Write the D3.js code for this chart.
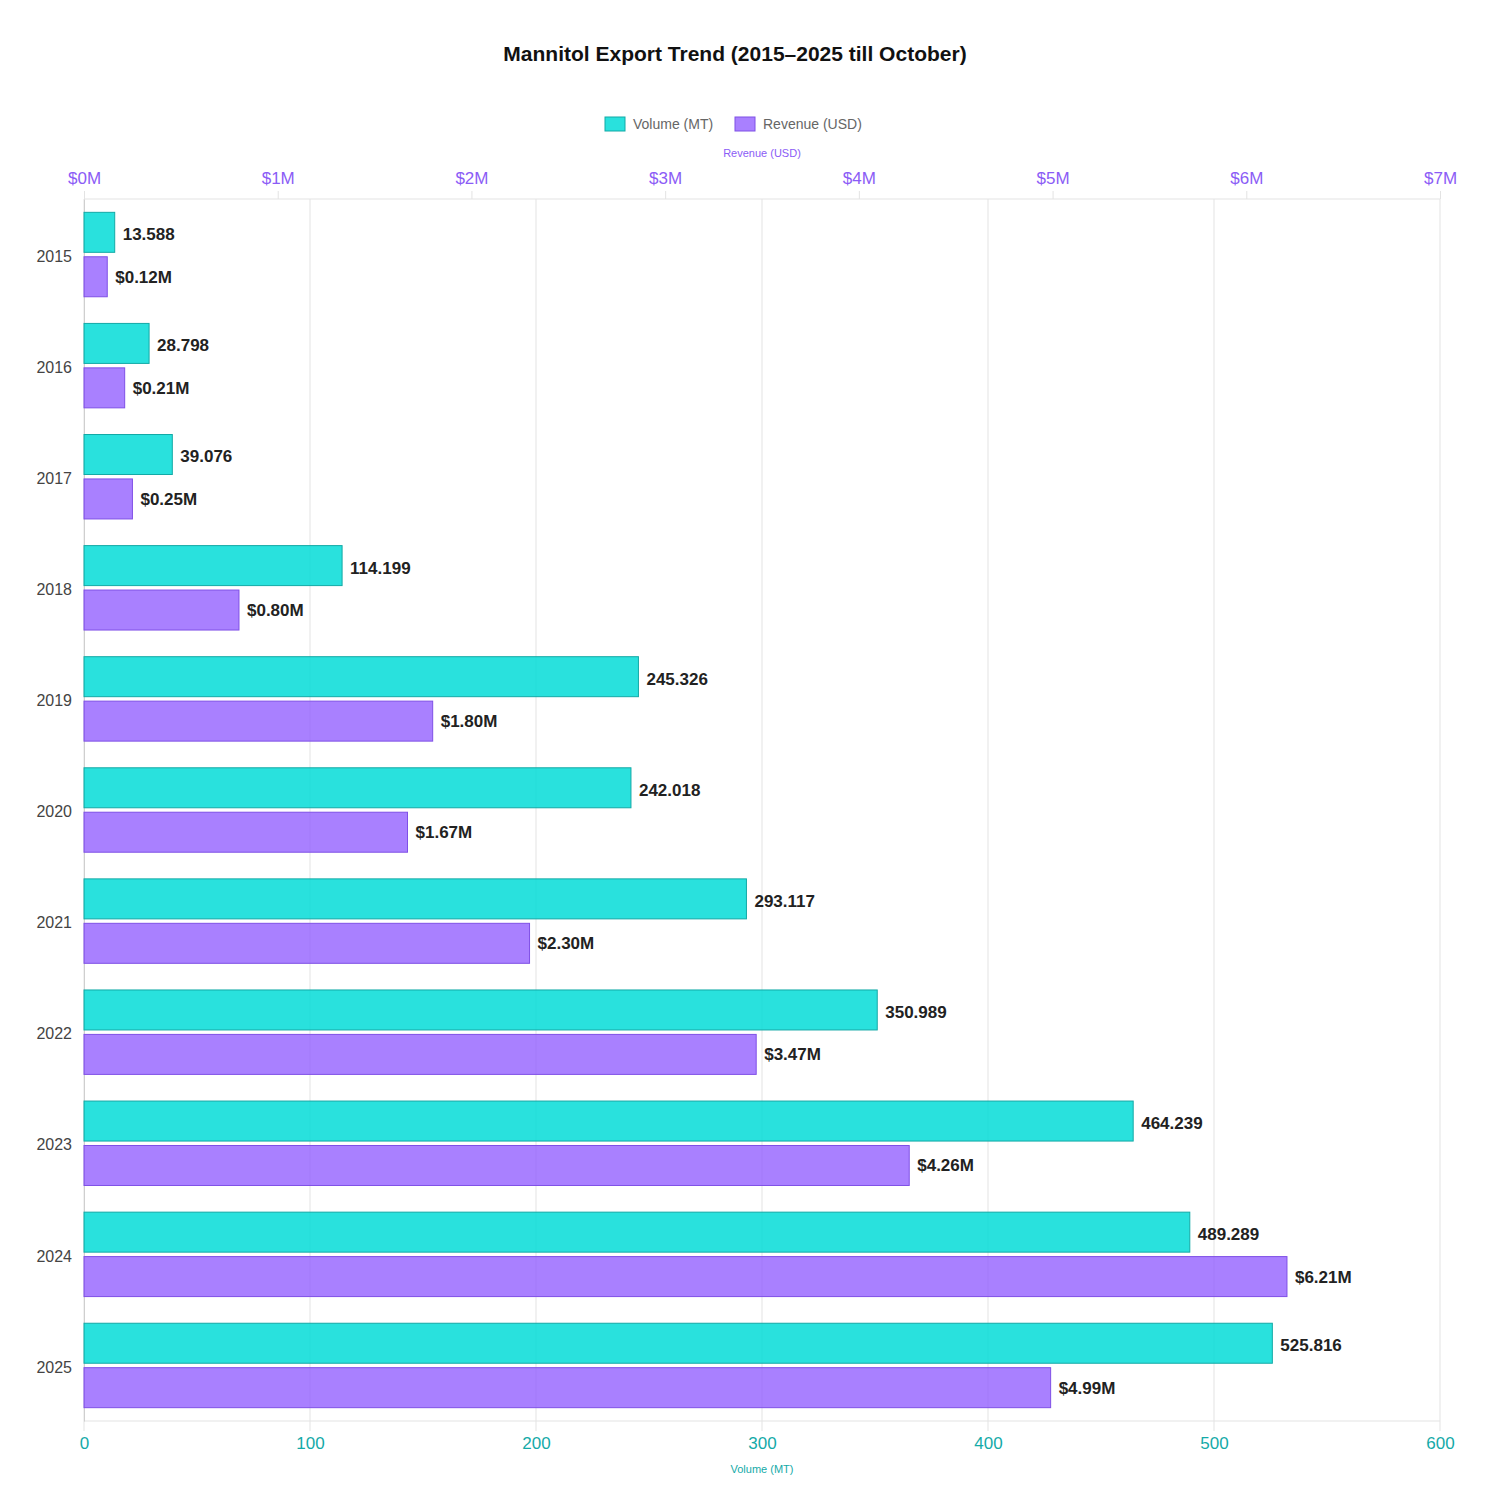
<!DOCTYPE html>
<html>
<head>
<meta charset="utf-8">
<script src="https://cdn.jsdelivr.net/npm/d3@7"></script>
<style>
  body { margin: 0; background: #fff; }
  svg { font-family: "Helvetica Neue", Helvetica, Arial, "Liberation Sans", sans-serif; }
</style>
</head>
<body>
<svg id="chart"></svg>
<script>
const years = ["2015", "2016", "2017", "2018", "2019", "2020", "2021", "2022", "2023", "2024", "2025"];
const volumeMT = [13.588, 28.798, 39.076, 114.199, 245.326, 242.018, 293.117, 350.989, 464.239, 489.289, 525.816];
const revenueM = [0.12, 0.21, 0.25, 0.80, 1.80, 1.67, 2.30, 3.47, 4.26, 6.21, 4.99];
const volumeTicks = [0, 100, 200, 300, 400, 500, 600];
const revenueTicks = [0, 1, 2, 3, 4, 5, 6, 7];

const width = 1500, height = 1500;
const margin = { top: 199, right: 60, bottom: 79, left: 84 };

const svg = d3.select("#chart").attr("width", width).attr("height", height);

const teal = "#13a9a6", purple = "#7f50e6";
const tealFill = "rgba(0,219,214,0.84)", purpleFill = "rgba(148,96,255,0.8)";

const xVol = d3.scaleLinear().domain([0, 600]).range([margin.left, width - margin.right]);
const xRev = d3.scaleLinear().domain([0, 7]).range([margin.left, width - margin.right]);
const y = d3.scaleBand().domain(years).range([margin.top, height - margin.bottom]);
// 80% of each band holds the group, each bar fills 90% of its slot
const inner = d3.scaleBand().domain(["vol", "rev"])
  .range([y.bandwidth() * 0.1, y.bandwidth() * 0.9]);
const barH = inner.bandwidth() * 0.9;
const barOff = inner.bandwidth() * 0.05;

const plotTop = margin.top, plotBottom = height - margin.bottom;

// vertical grid (volume axis)
svg.append("g")
  .selectAll("line")
  .data(volumeTicks)
  .join("line")
  .attr("x1", d => xVol(d)).attr("x2", d => xVol(d))
  .attr("y1", plotTop).attr("y2", plotBottom + 10)
  .attr("stroke", "#e3e3e3").attr("stroke-width", 1);

// top / bottom borders
svg.append("line")
  .attr("x1", margin.left).attr("x2", width - margin.right)
  .attr("y1", plotTop).attr("y2", plotTop)
  .attr("stroke", "#e3e3e3");
svg.append("line")
  .attr("x1", margin.left).attr("x2", width - margin.right)
  .attr("y1", plotBottom).attr("y2", plotBottom)
  .attr("stroke", "#e3e3e3");

const topAxis = d3.axisTop(xRev).tickValues(revenueTicks)
  .tickFormat(d => `$${d}M`).tickSize(8).tickPadding(7);
const gTop = svg.append("g").attr("transform", `translate(0,${plotTop})`).call(topAxis);
gTop.select(".domain").remove();
gTop.selectAll(".tick line").attr("stroke", "#e3e3e3");
gTop.selectAll(".tick text").attr("fill", "#8b5cf6").style("font-size", "17px");

const bottomAxis = d3.axisBottom(xVol).tickValues(volumeTicks).tickSize(0).tickPadding(16);
const gBot = svg.append("g").attr("transform", `translate(0,${plotBottom})`).call(bottomAxis);
gBot.select(".domain").remove();
gBot.selectAll(".tick text").attr("fill", "#14aaa8").style("font-size", "17px");

const leftAxis = d3.axisLeft(y).tickSize(0).tickPadding(12);
const gLeft = svg.append("g").attr("transform", `translate(${margin.left},0)`).call(leftAxis);
gLeft.select(".domain").attr("stroke", "#cfcfcf");
gLeft.selectAll(".tick text").attr("fill", "#444").style("font-size", "16px").attr("dy", "0.45em");

// bars
const groups = svg.append("g").selectAll("g")
  .data(years)
  .join("g")
  .attr("transform", d => `translate(0,${y(d)})`);

groups.append("rect")
  .attr("x", xVol(0))
  .attr("y", inner("vol") + barOff)
  .attr("width", (d, i) => xVol(volumeMT[i]) - xVol(0))
  .attr("height", barH)
  .attr("fill", tealFill).attr("stroke", teal).attr("stroke-width", 1);

groups.append("rect")
  .attr("x", xRev(0))
  .attr("y", inner("rev") + barOff)
  .attr("width", (d, i) => xRev(revenueM[i]) - xRev(0))
  .attr("height", barH)
  .attr("fill", purpleFill).attr("stroke", purple).attr("stroke-width", 1);

groups.append("text")
  .attr("x", (d, i) => xVol(volumeMT[i]) + 8)
  .attr("y", inner("vol") + inner.bandwidth() / 2 + 2)
  .attr("dy", "0.35em")
  .attr("fill", "#222").style("font-size", "17px").style("font-weight", "bold")
  .text((d, i) => volumeMT[i].toFixed(3));

groups.append("text")
  .attr("x", (d, i) => xRev(revenueM[i]) + 8)
  .attr("y", inner("rev") + inner.bandwidth() / 2)
  .attr("dy", "0.35em")
  .attr("fill", "#222").style("font-size", "17px").style("font-weight", "bold")
  .text((d, i) => `$${revenueM[i].toFixed(2)}M`);

// axis titles
svg.append("text")
  .attr("x", 762).attr("y", 157)
  .attr("text-anchor", "middle")
  .attr("fill", "#8b5cf6").style("font-size", "11px")
  .text("Revenue (USD)");
svg.append("text")
  .attr("x", 762).attr("y", 1473)
  .attr("text-anchor", "middle")
  .attr("fill", "#14aaa8").style("font-size", "11px")
  .text("Volume (MT)");

// title
svg.append("text")
  .attr("x", 735).attr("y", 61)
  .attr("text-anchor", "middle")
  .attr("fill", "#111").style("font-size", "21px").style("font-weight", "bold")
  .text("Mannitol Export Trend (2015–2025 till October)");

// legend
const legendItems = [
  { label: "Volume (MT)", fill: tealFill, stroke: teal, x: 605 },
  { label: "Revenue (USD)", fill: purpleFill, stroke: purple, x: 735 }
];
const lg = svg.append("g").selectAll("g")
  .data(legendItems)
  .join("g")
  .attr("transform", d => `translate(${d.x},117)`);
lg.append("rect")
  .attr("width", 20).attr("height", 14)
  .attr("fill", d => d.fill).attr("stroke", d => d.stroke);
lg.append("text")
  .attr("x", 28).attr("y", 7).attr("dy", "0.35em")
  .attr("fill", "#666").style("font-size", "14px")
  .text(d => d.label);
</script>
</body>
</html>
